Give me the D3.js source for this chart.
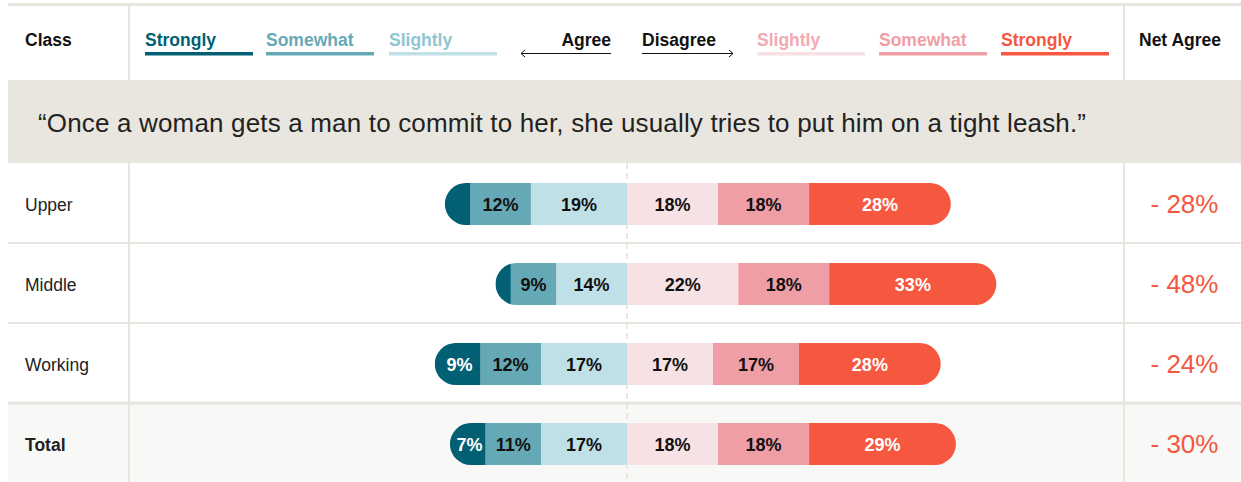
<!DOCTYPE html>
<html>
<head>
<meta charset="utf-8">
<script src="https://cdn.jsdelivr.net/npm/d3@7"></script>
<style>
  body { margin: 0; background: #fff; }
  svg { display: block; font-family: "Liberation Sans", Arial, Helvetica, sans-serif; }
</style>
</head>
<body>
<svg id="chart" width="1241" height="482"></svg>
<script>
// Survey responses by class (percent of respondents)
const classes = ["Upper", "Middle", "Working", "Total"];
const stronglyAgree    = [5, 3, 9, 7];
const somewhatAgree    = [12, 9, 12, 11];
const slightlyAgree    = [19, 14, 17, 17];
const slightlyDisagree = [18, 22, 17, 18];
const somewhatDisagree = [18, 18, 17, 18];
const stronglyDisagree = [28, 33, 28, 29];
const netAgree = ["- 28%", "- 48%", "- 24%", "- 30%"];

const agreeLevels = ["Strongly", "Somewhat", "Slightly"];
const disagreeLevels = ["Slightly", "Somewhat", "Strongly"];
const quote = "\u201cOnce a woman gets a man to commit to her, she usually tries to put him on a tight leash.\u201d";

const agreeColors = ["#035f74", "#66a9b6", "#bfe0e6"];
const disagreeColors = ["#f6e2e4", "#f09ea5", "#f5573f"];
const lineColor = "#e8e5df";

const svg = d3.select("#chart");
const W = 1241, H = 482;
const left = 8;
const colClass = 129, colNet = 1124;
const headerBottom = 80;
const quoteBottom = 163;
const rowH = 80;

// Center at 0% between agree and disagree
const x = d3.scaleLinear().domain([-80, 80]).range([627 - 404.8, 627 + 404.8]);
const y = d3.scaleBand().domain(classes).range([quoteBottom, quoteBottom + rowH * classes.length]);
const barH = 42;

// Total row background
svg.append("rect").attr("x", left).attr("y", y("Total")).attr("width", W - left)
  .attr("height", H - y("Total")).attr("fill", "#f8f8f6");

// Top border
svg.append("rect").attr("x", left).attr("y", 3).attr("width", W - left).attr("height", 3).attr("fill", lineColor);

// Column separators
[colClass, colNet].forEach(cx => {
  svg.append("line").attr("x1", cx).attr("x2", cx).attr("y1", 6).attr("y2", H)
    .attr("stroke", lineColor).attr("stroke-width", 2);
});

// Quote band
svg.append("rect").attr("x", left).attr("y", headerBottom).attr("width", W - left)
  .attr("height", quoteBottom - headerBottom).attr("fill", "#e9e6df");
svg.append("text").attr("x", 38).attr("y", 125)
  .attr("dominant-baseline", "middle").attr("font-size", 26).attr("fill", "#222")
  .attr("textLength", 1048).attr("lengthAdjust", "spacing")
  .text(quote);

// Row separators
classes.slice(1).forEach(c => {
  svg.append("line").attr("x1", left).attr("x2", W).attr("y1", y(c)).attr("y2", y(c))
    .attr("stroke", lineColor).attr("stroke-width", c === "Total" ? 3 : 2);
});

// Dashed zero line
svg.append("line").attr("x1", x(0)).attr("x2", x(0)).attr("y1", quoteBottom).attr("y2", H)
  .attr("stroke", "#e4e1db").attr("stroke-width", 1.5).attr("stroke-dasharray", "6,4");

// Header
const header = svg.append("g").attr("font-weight", "bold").attr("font-size", 17.5);
header.append("text").attr("x", 25).attr("y", 46).attr("fill", "#111").text("Class");
header.append("text").attr("x", 1139).attr("y", 46).attr("fill", "#111").text("Net Agree");

const legendW = 108;
const agreeLegendX = [145, 266, 389];
const disagreeLegendX = [757, 879, 1001];
const agreeText = ["#035f74", "#66a9b6", "#8fc6d1"];
const disagreeText = ["#f3a9b0", "#f09ea5", "#f5573f"];
agreeLevels.forEach((lv, i) => {
  header.append("text").attr("x", agreeLegendX[i]).attr("y", 46).attr("fill", agreeText[i]).text(lv);
  header.append("rect").attr("x", agreeLegendX[i]).attr("y", 52).attr("width", legendW).attr("height", 3.5).attr("fill", agreeColors[i]);
});
disagreeLevels.forEach((lv, i) => {
  header.append("text").attr("x", disagreeLegendX[i]).attr("y", 46).attr("fill", disagreeText[i]).text(lv);
  header.append("rect").attr("x", disagreeLegendX[i]).attr("y", 52).attr("width", legendW).attr("height", 3.5).attr("fill", disagreeColors[i]);
});

// Direction arrows
header.append("text").attr("x", 611).attr("y", 46).attr("text-anchor", "end").attr("fill", "#111").text("Agree");
header.append("text").attr("x", 642).attr("y", 46).attr("fill", "#111").text("Disagree");
const arrows = svg.append("g").attr("stroke", "#111").attr("stroke-width", 1).attr("fill", "none");
arrows.append("line").attr("x1", 521).attr("x2", 611).attr("y1", 53.5).attr("y2", 53.5);
arrows.append("path").attr("d", "M525,50 L521,53.5 L525,57");
arrows.append("line").attr("x1", 642).attr("x2", 733).attr("y1", 53.5).attr("y2", 53.5);
arrows.append("path").attr("d", "M729,50 L733,53.5 L729,57");

// Rows
const defs = svg.append("defs");
classes.forEach((c, i) => {
  const cy = y(c) + y.bandwidth() / 2 + 1;
  svg.append("text").attr("x", 25).attr("y", cy + 2).attr("dominant-baseline", "middle")
    .attr("font-size", 17.5).attr("font-weight", c === "Total" ? "bold" : "normal")
    .attr("fill", "#222").text(c);

  const agreeVals = [stronglyAgree[i], somewhatAgree[i], slightlyAgree[i]];
  const disagreeVals = [slightlyDisagree[i], somewhatDisagree[i], stronglyDisagree[i]];
  const agreeTotal = d3.sum(agreeVals);
  const disagreeTotal = d3.sum(disagreeVals);

  const segs = [];
  let start = -agreeTotal;
  agreeVals.forEach((v, k) => {
    segs.push({ v, x0: start, x1: start + v, color: agreeColors[k], text: k === 0 ? "#fff" : "#111" });
    start += v;
  });
  start = 0;
  disagreeVals.forEach((v, k) => {
    segs.push({ v, x0: start, x1: start + v, color: disagreeColors[k], text: k === 2 ? "#fff" : "#111" });
    start += v;
  });

  const clipId = "clip-" + i;
  defs.append("clipPath").attr("id", clipId).append("rect")
    .attr("x", x(-agreeTotal)).attr("y", cy - barH / 2)
    .attr("width", x(disagreeTotal) - x(-agreeTotal)).attr("height", barH)
    .attr("rx", barH / 2).attr("ry", barH / 2);

  const g = svg.append("g");
  g.append("g").attr("clip-path", `url(#${clipId})`).selectAll("rect").data(segs).join("rect")
    .attr("x", d => x(d.x0)).attr("y", cy - barH / 2)
    .attr("width", d => x(d.x1) - x(d.x0) + 0.5).attr("height", barH)
    .attr("fill", d => d.color);

  g.selectAll("text").data(segs.filter(d => d.v >= 6)).join("text")
    .attr("x", d => (x(d.x0) + x(d.x1)) / 2 + ((d.x0 === -agreeTotal) ? 2 : 0))
    .attr("y", cy + 2).attr("text-anchor", "middle").attr("dominant-baseline", "middle")
    .attr("font-size", 18).attr("font-weight", "bold").attr("fill", d => d.text)
    .text(d => d.v + "%");

  svg.append("text").attr("x", 1184.5).attr("y", cy + 2).attr("text-anchor", "middle")
    .attr("dominant-baseline", "middle").attr("font-size", 26).attr("fill", "#f4573f")
    .text(netAgree[i]);
});
</script>
</body>
</html>
